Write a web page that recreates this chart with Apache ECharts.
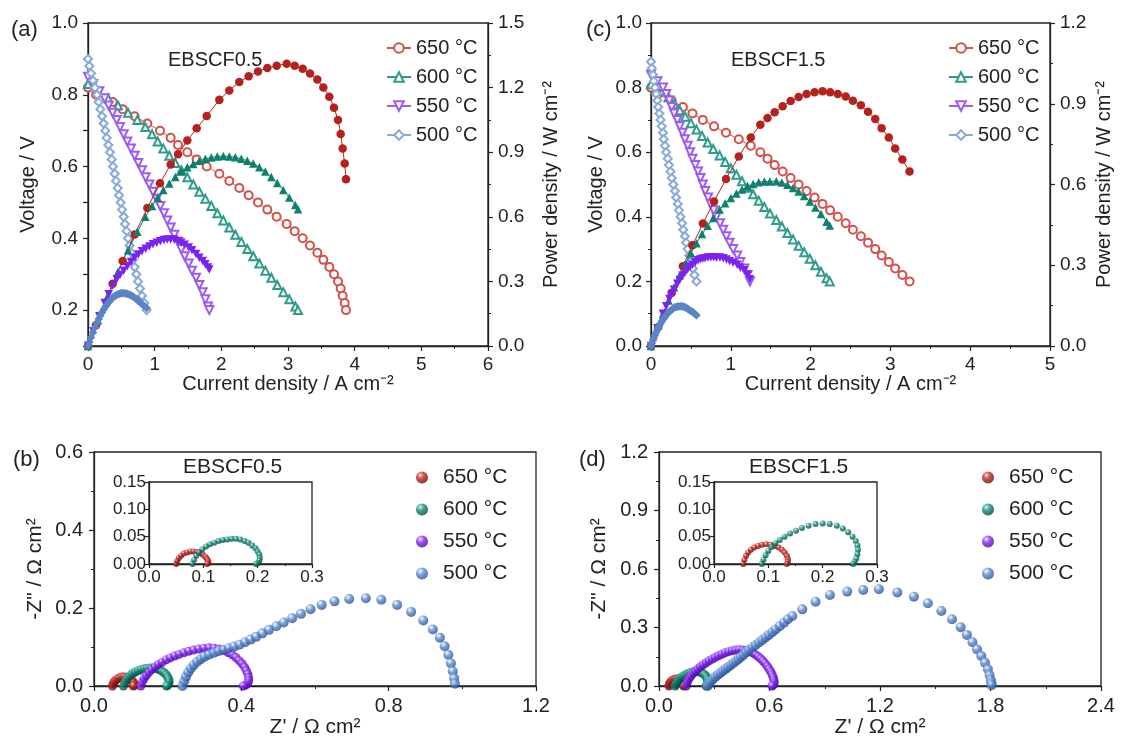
<!DOCTYPE html>
<html>
<head>
<meta charset="utf-8">
<title>EBSCF cell performance</title>
<script src="https://cdn.jsdelivr.net/npm/echarts@6/dist/echarts.min.js"></script>
<style>
  html, body { margin: 0; padding: 0; background: #fff; }
  #chart { width: 1121px; height: 744px; }
</style>
</head>
<body>
<div id="chart"></div>
<script>
// (a) EBSCF0.5 I-V-P curves
var aI650 = [0, 0.12, 0.37, 0.52, 0.70, 0.89, 1.08, 1.24, 1.35, 1.49, 1.63, 1.78, 1.97, 2.12, 2.27, 2.41, 2.55, 2.69, 2.83, 2.98, 3.10, 3.22, 3.33, 3.44, 3.53, 3.62, 3.69, 3.75, 3.79, 3.82, 3.85, 3.87];
var aV650 = [0.82, 0.80, 0.78, 0.76, 0.74, 0.72, 0.70, 0.68, 0.66, 0.64, 0.62, 0.60, 0.58, 0.56, 0.54, 0.52, 0.50, 0.48, 0.46, 0.44, 0.42, 0.40, 0.38, 0.36, 0.34, 0.32, 0.30, 0.28, 0.26, 0.24, 0.22, 0.20];
var aP650 = [0, 0.096, 0.289, 0.395, 0.518, 0.641, 0.756, 0.843, 0.891, 0.954, 1.011, 1.068, 1.143, 1.187, 1.226, 1.253, 1.275, 1.291, 1.302, 1.311, 1.302, 1.288, 1.265, 1.238, 1.200, 1.158, 1.107, 1.050, 0.985, 0.917, 0.847, 0.774];

var aI600 = [0, 0.15, 0.30, 0.45, 0.60, 0.74, 0.86, 0.96, 1.045, 1.13, 1.22, 1.31, 1.40, 1.49, 1.58, 1.67, 1.76, 1.85, 1.94, 2.03, 2.12, 2.21, 2.30, 2.39, 2.48, 2.57, 2.66, 2.75, 2.84, 2.93, 3.02, 3.11, 3.15];
var aV600 = [0.83, 0.81, 0.79, 0.77, 0.75, 0.73, 0.71, 0.69, 0.67, 0.65, 0.63, 0.61, 0.59, 0.57, 0.55, 0.53, 0.51, 0.49, 0.47, 0.45, 0.43, 0.41, 0.39, 0.37, 0.35, 0.33, 0.31, 0.29, 0.27, 0.25, 0.23, 0.21, 0.20];
var aP600 = [0, 0.12, 0.235, 0.345, 0.445, 0.53, 0.60, 0.65, 0.69, 0.725, 0.755, 0.785, 0.81, 0.83, 0.845, 0.86, 0.87, 0.875, 0.88, 0.882, 0.88, 0.877, 0.87, 0.86, 0.847, 0.83, 0.81, 0.785, 0.757, 0.725, 0.69, 0.655, 0.635];

var aI550 = [0, 0.08, 0.17, 0.25, 0.31, 0.37, 0.43, 0.48, 0.535, 0.59, 0.645, 0.70, 0.755, 0.81, 0.865, 0.92, 0.975, 1.03, 1.085, 1.14, 1.19, 1.24, 1.295, 1.35, 1.40, 1.45, 1.51, 1.56, 1.62, 1.67, 1.72, 1.76, 1.80, 1.82];
var aV550 = [0.85, 0.83, 0.81, 0.79, 0.77, 0.75, 0.73, 0.71, 0.69, 0.67, 0.65, 0.63, 0.61, 0.59, 0.57, 0.55, 0.53, 0.51, 0.49, 0.47, 0.45, 0.43, 0.41, 0.39, 0.37, 0.35, 0.33, 0.31, 0.29, 0.27, 0.25, 0.23, 0.21, 0.20];
var aP550 = [0, 0.068, 0.138, 0.20, 0.24, 0.28, 0.31, 0.33, 0.35, 0.37, 0.39, 0.41, 0.425, 0.44, 0.452, 0.462, 0.472, 0.48, 0.487, 0.492, 0.495, 0.495, 0.493, 0.488, 0.48, 0.47, 0.458, 0.445, 0.427, 0.41, 0.395, 0.38, 0.365, 0.355];

var aI500 = [0, 0.02, 0.045, 0.075, 0.105, 0.135, 0.16, 0.185, 0.21, 0.235, 0.26, 0.28, 0.305, 0.33, 0.355, 0.375, 0.40, 0.42, 0.445, 0.465, 0.49, 0.51, 0.535, 0.555, 0.58, 0.60, 0.625, 0.65, 0.675, 0.70, 0.725, 0.75, 0.78, 0.81, 0.845, 0.88];
var aV500 = [0.90, 0.88, 0.86, 0.84, 0.82, 0.80, 0.78, 0.76, 0.74, 0.72, 0.70, 0.68, 0.66, 0.64, 0.62, 0.60, 0.58, 0.56, 0.54, 0.52, 0.50, 0.48, 0.46, 0.44, 0.42, 0.40, 0.38, 0.36, 0.34, 0.32, 0.30, 0.28, 0.26, 0.24, 0.22, 0.20];
var aP500 = [0, 0.018, 0.039, 0.063, 0.086, 0.108, 0.125, 0.141, 0.155, 0.169, 0.182, 0.19, 0.201, 0.211, 0.22, 0.225, 0.232, 0.235, 0.24, 0.242, 0.245, 0.245, 0.246, 0.244, 0.244, 0.24, 0.238, 0.234, 0.23, 0.224, 0.218, 0.21, 0.203, 0.194, 0.186, 0.176];

// (c) EBSCF1.5 I-V-P curves
var cI650 = [0, 0.09, 0.26, 0.40, 0.52, 0.65, 0.79, 0.94, 1.10, 1.25, 1.37, 1.46, 1.55, 1.65, 1.75, 1.85, 1.95, 2.05, 2.15, 2.245, 2.34, 2.44, 2.53, 2.63, 2.72, 2.81, 2.89, 2.98, 3.06, 3.15, 3.24];
var cV650 = [0.80, 0.78, 0.76, 0.74, 0.72, 0.70, 0.68, 0.66, 0.64, 0.62, 0.60, 0.58, 0.56, 0.54, 0.52, 0.50, 0.48, 0.46, 0.44, 0.42, 0.40, 0.38, 0.36, 0.34, 0.32, 0.30, 0.28, 0.26, 0.24, 0.22, 0.20];
var cP650 = [0, 0.070, 0.198, 0.296, 0.374, 0.455, 0.537, 0.620, 0.704, 0.775, 0.822, 0.847, 0.868, 0.891, 0.910, 0.925, 0.936, 0.943, 0.946, 0.943, 0.936, 0.927, 0.911, 0.894, 0.870, 0.843, 0.809, 0.775, 0.734, 0.693, 0.648];

var cI600 = [0, 0.15, 0.22, 0.29, 0.36, 0.43, 0.50, 0.57, 0.64, 0.71, 0.78, 0.86, 0.93, 1.00, 1.07, 1.14, 1.21, 1.28, 1.35, 1.42, 1.49, 1.57, 1.64, 1.71, 1.78, 1.85, 1.92, 1.99, 2.06, 2.13, 2.20, 2.24];
var cV600 = [0.81, 0.79, 0.77, 0.75, 0.73, 0.71, 0.69, 0.67, 0.65, 0.63, 0.61, 0.59, 0.57, 0.55, 0.53, 0.51, 0.49, 0.47, 0.45, 0.43, 0.41, 0.39, 0.37, 0.35, 0.33, 0.31, 0.29, 0.27, 0.25, 0.23, 0.21, 0.20];
var cP600 = [0, 0.119, 0.169, 0.218, 0.263, 0.305, 0.345, 0.382, 0.416, 0.447, 0.476, 0.507, 0.530, 0.550, 0.567, 0.581, 0.593, 0.602, 0.608, 0.611, 0.611, 0.612, 0.607, 0.599, 0.587, 0.574, 0.557, 0.537, 0.515, 0.49, 0.462, 0.448];

var cI550 = [0, 0.08, 0.15, 0.19, 0.23, 0.26, 0.29, 0.33, 0.36, 0.395, 0.425, 0.46, 0.49, 0.52, 0.555, 0.59, 0.62, 0.65, 0.68, 0.715, 0.75, 0.785, 0.82, 0.865, 0.905, 0.945, 0.985, 1.03, 1.08, 1.12, 1.17, 1.21, 1.24];
var cV550 = [0.84, 0.82, 0.80, 0.78, 0.76, 0.74, 0.72, 0.70, 0.68, 0.66, 0.64, 0.62, 0.60, 0.58, 0.56, 0.54, 0.52, 0.50, 0.48, 0.46, 0.44, 0.42, 0.40, 0.38, 0.36, 0.34, 0.32, 0.30, 0.28, 0.26, 0.24, 0.22, 0.20];
var cP550 = [0, 0.066, 0.12, 0.148, 0.175, 0.192, 0.209, 0.231, 0.245, 0.261, 0.272, 0.285, 0.294, 0.302, 0.311, 0.319, 0.322, 0.325, 0.326, 0.329, 0.33, 0.33, 0.328, 0.329, 0.326, 0.321, 0.315, 0.309, 0.302, 0.291, 0.281, 0.266, 0.248];

var cI500 = [0, 0.01, 0.025, 0.035, 0.05, 0.065, 0.08, 0.09, 0.105, 0.12, 0.135, 0.15, 0.16, 0.175, 0.19, 0.21, 0.225, 0.245, 0.26, 0.28, 0.30, 0.315, 0.335, 0.35, 0.37, 0.39, 0.405, 0.425, 0.44, 0.46, 0.48, 0.50, 0.525, 0.545, 0.57];
var cV500 = [0.88, 0.86, 0.84, 0.82, 0.80, 0.78, 0.76, 0.74, 0.72, 0.70, 0.68, 0.66, 0.64, 0.62, 0.60, 0.58, 0.56, 0.54, 0.52, 0.50, 0.48, 0.46, 0.44, 0.42, 0.40, 0.38, 0.36, 0.34, 0.32, 0.30, 0.28, 0.26, 0.24, 0.22, 0.20];
var cP500 = [0, 0.009, 0.021, 0.029, 0.04, 0.051, 0.061, 0.067, 0.076, 0.084, 0.092, 0.099, 0.102, 0.109, 0.114, 0.122, 0.126, 0.132, 0.135, 0.14, 0.144, 0.145, 0.147, 0.147, 0.148, 0.148, 0.146, 0.145, 0.141, 0.138, 0.134, 0.13, 0.126, 0.12, 0.114];

// (b) EBSCF0.5 impedance spectra: Z' and -Z''
var bRe650 = [0.05, 0.052, 0.055, 0.059, 0.064, 0.07, 0.076, 0.082, 0.088, 0.094, 0.099, 0.104, 0.107, 0.109, 0.109, 0.107];
var bIm650 = [0, 0.006, 0.011, 0.015, 0.019, 0.021, 0.023, 0.023, 0.022, 0.02, 0.017, 0.013, 0.009, 0.005, 0.002, 0];
var bRe600 = [0.08, 0.083, 0.087, 0.092, 0.098, 0.105, 0.112, 0.12, 0.128, 0.136, 0.144, 0.152, 0.16, 0.168, 0.176, 0.183, 0.19, 0.196, 0.2, 0.203, 0.204, 0.203, 0.2, 0.197];
var bIm600 = [0, 0.008, 0.015, 0.021, 0.027, 0.032, 0.036, 0.039, 0.042, 0.044, 0.045, 0.046, 0.046, 0.045, 0.042, 0.039, 0.034, 0.029, 0.023, 0.017, 0.011, 0.006, 0.002, 0];
var bRe550 = [0.127, 0.131, 0.136, 0.142, 0.149, 0.157, 0.166, 0.175, 0.185, 0.196, 0.207, 0.219, 0.231, 0.244, 0.257, 0.27, 0.284, 0.298, 0.312, 0.326, 0.339, 0.352, 0.364, 0.375, 0.385, 0.394, 0.402, 0.409, 0.414, 0.418, 0.42, 0.42, 0.417, 0.411, 0.405];
var bIm550 = [0, 0.01, 0.019, 0.027, 0.035, 0.042, 0.049, 0.055, 0.061, 0.067, 0.072, 0.077, 0.081, 0.085, 0.089, 0.092, 0.095, 0.097, 0.098, 0.097, 0.095, 0.091, 0.086, 0.08, 0.073, 0.065, 0.057, 0.048, 0.039, 0.03, 0.021, 0.013, 0.006, 0.002, 0];
var bRe500 = [0.24, 0.245, 0.25, 0.256, 0.263, 0.271, 0.28, 0.29, 0.30, 0.312, 0.325, 0.338, 0.352, 0.366, 0.38, 0.395, 0.41, 0.425, 0.44, 0.457, 0.475, 0.495, 0.515, 0.538, 0.562, 0.588, 0.618, 0.653, 0.693, 0.738, 0.78, 0.823, 0.861, 0.894, 0.92, 0.939, 0.952, 0.962, 0.969, 0.974, 0.978, 0.98];
var bIm500 = [0, 0.012, 0.024, 0.035, 0.045, 0.054, 0.062, 0.069, 0.075, 0.08, 0.085, 0.089, 0.093, 0.097, 0.101, 0.106, 0.112, 0.119, 0.126, 0.135, 0.144, 0.153, 0.163, 0.174, 0.185, 0.197, 0.208, 0.217, 0.223, 0.225, 0.221, 0.208, 0.19, 0.168, 0.145, 0.124, 0.102, 0.08, 0.058, 0.038, 0.02, 0.006];

// (d) EBSCF1.5 impedance spectra
var dRe650 = [0.054, 0.056, 0.059, 0.063, 0.068, 0.074, 0.081, 0.088, 0.096, 0.104, 0.112, 0.119, 0.125, 0.13, 0.134, 0.136, 0.136, 0.134];
var dIm650 = [0, 0.008, 0.015, 0.021, 0.026, 0.03, 0.033, 0.035, 0.036, 0.035, 0.033, 0.03, 0.026, 0.021, 0.015, 0.009, 0.004, 0];
var dRe600 = [0.088, 0.091, 0.095, 0.1, 0.106, 0.113, 0.121, 0.13, 0.14, 0.151, 0.162, 0.174, 0.187, 0.2, 0.213, 0.226, 0.237, 0.247, 0.255, 0.261, 0.264, 0.265, 0.264, 0.262, 0.259, 0.256];
var dIm600 = [0, 0.008, 0.016, 0.024, 0.031, 0.038, 0.044, 0.05, 0.056, 0.061, 0.066, 0.07, 0.073, 0.074, 0.073, 0.07, 0.065, 0.058, 0.05, 0.042, 0.034, 0.026, 0.018, 0.01, 0.004, 0];
var dRe550 = [0.148, 0.152, 0.158, 0.166, 0.175, 0.186, 0.198, 0.211, 0.225, 0.24, 0.256, 0.272, 0.289, 0.306, 0.323, 0.341, 0.359, 0.378, 0.397, 0.416, 0.435, 0.454, 0.472, 0.49, 0.507, 0.523, 0.538, 0.552, 0.565, 0.577, 0.588, 0.598, 0.607, 0.614, 0.62, 0.624, 0.626, 0.624, 0.619, 0.613];
var dIm550 = [0, 0.015, 0.029, 0.042, 0.054, 0.066, 0.077, 0.088, 0.099, 0.109, 0.119, 0.129, 0.138, 0.147, 0.155, 0.163, 0.17, 0.176, 0.181, 0.184, 0.186, 0.185, 0.182, 0.177, 0.17, 0.161, 0.151, 0.14, 0.128, 0.115, 0.101, 0.087, 0.073, 0.059, 0.045, 0.032, 0.02, 0.01, 0.003, 0];
var dRe500 = [0.265, 0.272, 0.282, 0.294, 0.307, 0.32, 0.334, 0.348, 0.362, 0.376, 0.39, 0.404, 0.418, 0.432, 0.446, 0.46, 0.474, 0.489, 0.507, 0.525, 0.543, 0.561, 0.579, 0.597, 0.615, 0.633, 0.656, 0.679, 0.70, 0.724, 0.778, 0.85, 0.928, 1.022, 1.109, 1.194, 1.294, 1.384, 1.46, 1.533, 1.591, 1.638, 1.672, 1.702, 1.727, 1.75, 1.77, 1.786, 1.795, 1.802, 1.805, 1.806];
var dIm500 = [0, 0.013, 0.025, 0.037, 0.048, 0.058, 0.068, 0.078, 0.088, 0.098, 0.108, 0.118, 0.128, 0.139, 0.15, 0.161, 0.173, 0.186, 0.199, 0.21, 0.223, 0.236, 0.249, 0.262, 0.276, 0.29, 0.307, 0.325, 0.342, 0.359, 0.393, 0.432, 0.467, 0.484, 0.492, 0.496, 0.48, 0.458, 0.424, 0.385, 0.342, 0.301, 0.262, 0.224, 0.188, 0.154, 0.12, 0.086, 0.056, 0.031, 0.014, 0.004];

var temps = ['650', '600', '550', '500'];

var ink = '#222';
var font = 'Liberation Sans';
// filled (power / spheres) and open (voltage) colours per temperature
var solid = { '650': '#b5221e', '600': '#0f7f6f', '550': '#7b22f0', '500': '#5a84c4' };
var hollow = { '650': '#d4504b', '600': '#2f9b8b', '550': '#9a5bf6', '500': '#88a9d9' };
var sphere = {
  '650': ['#ef8a84', '#bd2621', '#6a0c09'],
  '600': ['#7fcfc1', '#118a79', '#05463c'],
  '550': ['#c9a2ff', '#8424f5', '#4a0a9e'],
  '500': ['#c4d8f5', '#5b8ad0', '#2b5193']
};
var openSym = { '650': 'emptyCircle', '600': 'emptyTriangle', '550': 'emptyTriangle', '500': 'emptyDiamond' };
var fillSym = { '650': 'circle', '600': 'triangle', '550': 'triangle', '500': 'diamond' };
var rot = { '650': 0, '600': 0, '550': 180, '500': 0 };

function zip(xs, ys) {
  return xs.map(function (x, i) { return [x, ys[i]]; });
}

function ball(t) {
  var c = sphere[t];
  return {
    type: 'radial', x: 0.36, y: 0.3, r: 0.7,
    colorStops: [
      { offset: 0, color: '#ffffff' },
      { offset: 0.14, color: c[0] },
      { offset: 0.45, color: c[1] },
      { offset: 1, color: c[2] }
    ]
  };
}

function axis(opt) {
  var dec = opt.dec;
  return {
    type: 'value',
    gridIndex: opt.grid,
    position: opt.pos,
    min: opt.min,
    max: opt.max,
    interval: opt.step,
    name: opt.name || '',
    nameLocation: 'middle',
    nameGap: opt.gap || 30,
    nameTextStyle: { color: ink, fontSize: opt.nfs || 20, fontFamily: font },
    axisLine: { show: true, onZero: false, lineStyle: { color: ink, width: 1.3 } },
    axisTick: { show: true, length: opt.tick || 5, lineStyle: { color: ink, width: 1.2 } },
    minorTick: { show: opt.minor !== false, splitNumber: 2, length: opt.mtick || 3, lineStyle: { color: ink, width: 1 } },
    splitLine: { show: false },
    axisLabel: {
      color: ink, fontSize: opt.fs || 19, fontFamily: font, margin: opt.margin || 9,
      formatter: opt.fmt || function (v) { return v.toFixed(dec); }
    }
  };
}

var grids = [
  { left: 88, top: 23, width: 400, height: 323 },
  { left: 651, top: 23, width: 399, height: 323 },
  { left: 94, top: 452, width: 442, height: 234 },
  { left: 659, top: 452, width: 442, height: 234 },
  { left: 149, top: 482, width: 163, height: 82, backgroundColor: '#fff' },
  { left: 714, top: 482, width: 163, height: 82, backgroundColor: '#fff' }
].map(function (g) {
  return Object.assign({ show: true, borderColor: ink, borderWidth: 1.3, backgroundColor: 'transparent', containLabel: false }, g);
});

var xAxes = [
  axis({ grid: 0, pos: 'bottom', min: 0, max: 6, step: 1, dec: 0, name: 'Current density / A cm\u207B\u00B2', gap: 27 }),
  axis({ grid: 1, pos: 'bottom', min: 0, max: 5, step: 1, dec: 0, name: 'Current density / A cm\u207B\u00B2', gap: 27 }),
  axis({ grid: 2, pos: 'bottom', min: 0, max: 1.2, step: 0.4, dec: 1, name: "Z' / \u03A9 cm\u00B2", gap: 31, fs: 20, nfs: 21, margin: 10 }),
  axis({ grid: 3, pos: 'bottom', min: 0, max: 2.4, step: 0.6, dec: 1, name: "Z' / \u03A9 cm\u00B2", gap: 31, fs: 20, nfs: 21, margin: 10 }),
  axis({ grid: 4, pos: 'bottom', min: 0, max: 0.3, step: 0.1, dec: 1, fs: 17, margin: 5, tick: 4, mtick: 2 }),
  axis({ grid: 5, pos: 'bottom', min: 0, max: 0.3, step: 0.1, dec: 1, fs: 17, margin: 5, tick: 4, mtick: 2 })
];

var yAxes = [
  axis({ grid: 0, pos: 'left', min: 0.1, max: 1.0, step: 0.1, minor: false, name: 'Voltage / V', gap: 50, margin: 10,
    fmt: function (v) { return Math.round(v * 10) % 2 === 0 ? v.toFixed(1) : ''; } }),
  axis({ grid: 0, pos: 'right', min: 0, max: 1.5, step: 0.3, dec: 1, name: 'Power density / W cm\u207B\u00B2', gap: 53, margin: 10 }),
  axis({ grid: 1, pos: 'left', min: 0, max: 1.0, step: 0.2, dec: 1, name: 'Voltage / V', gap: 45, margin: 9 }),
  axis({ grid: 1, pos: 'right', min: 0, max: 1.2, step: 0.3, dec: 1, name: 'Power density / W cm\u207B\u00B2', gap: 44, margin: 10 }),
  axis({ grid: 2, pos: 'left', min: 0, max: 0.6, step: 0.2, dec: 1, name: '-Z" / \u03A9 cm\u00B2', gap: 48, fs: 20, nfs: 21, margin: 11 }),
  axis({ grid: 3, pos: 'left', min: 0, max: 1.2, step: 0.3, dec: 1, name: '-Z" / \u03A9 cm\u00B2', gap: 49, fs: 20, nfs: 21, margin: 11 }),
  axis({ grid: 4, pos: 'left', min: 0, max: 0.15, step: 0.05, dec: 2, fs: 17, margin: 3, tick: 4, minor: false }),
  axis({ grid: 5, pos: 'left', min: 0, max: 0.15, step: 0.05, dec: 2, fs: 17, margin: 3, tick: 4, minor: false })
];

var ivData = {
  a: { I: [aI650, aI600, aI550, aI500], V: [aV650, aV600, aV550, aV500], P: [aP650, aP600, aP550, aP500], x: 0, yv: 0, yp: 1 },
  c: { I: [cI650, cI600, cI550, cI500], V: [cV650, cV600, cV550, cV500], P: [cP650, cP600, cP550, cP500], x: 1, yv: 2, yp: 3 }
};
var eisData = {
  b: { re: [bRe650, bRe600, bRe550, bRe500], im: [bIm650, bIm600, bIm550, bIm500], x: 2, y: 4, ix: 4, iy: 6 },
  d: { re: [dRe650, dRe600, dRe550, dRe500], im: [dIm650, dIm600, dIm550, dIm500], x: 3, y: 5, ix: 5, iy: 7 }
};

var series = [];
Object.keys(ivData).forEach(function (k) {
  var p = ivData[k];
  temps.forEach(function (t, i) {
    series.push({
      name: k + 'V' + t, type: 'line', xAxisIndex: p.x, yAxisIndex: p.yv,
      data: zip(p.I[i], p.V[i]),
      symbol: openSym[t], symbolSize: 8, symbolRotate: rot[t],
      itemStyle: { color: hollow[t], borderWidth: 1 },
      lineStyle: { color: hollow[t], width: 1 },
      z: 2, animation: false
    });
    series.push({
      name: k + 'P' + t, type: 'line', xAxisIndex: p.x, yAxisIndex: p.yp,
      data: zip(p.I[i], p.P[i]),
      symbol: fillSym[t], symbolSize: 8.5, symbolRotate: rot[t],
      itemStyle: { color: solid[t] },
      lineStyle: { color: solid[t], width: 1 },
      z: 3, animation: false
    });
  });
});
Object.keys(eisData).forEach(function (k) {
  var p = eisData[k];
  temps.forEach(function (t, i) {
    series.push({
      name: k + 'Z' + t, type: 'scatter', xAxisIndex: p.x, yAxisIndex: p.y,
      data: zip(p.re[i], p.im[i]),
      symbolSize: t === '500' ? 10 : 9,
      itemStyle: { color: ball(t) },
      z: 3, animation: false
    });
    if (t === '650' || t === '600') {
      series.push({
        name: k + 'z' + t, type: 'scatter', xAxisIndex: p.ix, yAxisIndex: p.iy,
        data: zip(p.re[i], p.im[i]),
        symbolSize: 6,
        itemStyle: { color: ball(t) },
        z: 5, animation: false
      });
    }
  });
});

function legend(prefix, left, top, opt) {
  return Object.assign({
    orient: 'vertical', left: left, top: top, padding: 0,
    data: temps.map(function (t) { return prefix + t; }),
    formatter: function (n) { return n.slice(-3) + ' \u00B0C'; },
    textStyle: { color: ink, fontSize: 20, fontFamily: font, lineHeight: 20 },
    itemWidth: 25, itemHeight: 12, itemGap: 9,
    selectedMode: false
  }, opt || {});
}

var ballLegend = { icon: 'circle', itemWidth: 32, itemHeight: 12, itemGap: 11,
  textStyle: { color: ink, fontSize: 21, fontFamily: font, lineHeight: 21 } };

var legends = [
  legend('aV', 386, 38, { itemWidth: 24 }),
  legend('cV', 948, 38, { itemWidth: 24 }),
  legend('bZ', 416, 467, ballLegend),
  legend('dZ', 982, 467, ballLegend)
];

function label(text, x, y, size) {
  return { type: 'text', left: x, top: y, z: 10,
    style: { text: text, fill: ink, fontSize: size, fontFamily: font } };
}

var chart = echarts.init(document.getElementById('chart'), null, { renderer: 'canvas' });
chart.setOption({
  backgroundColor: '#fff',
  animation: false,
  textStyle: { fontFamily: font },
  grid: grids,
  xAxis: xAxes,
  yAxis: yAxes,
  legend: legends,
  series: series,
  graphic: [
    label('(a)', 11, 19, 22),
    label('(c)', 586, 19, 22),
    label('(b)', 13, 449, 22),
    label('(d)', 579, 449, 22),
    label('EBSCF0.5', 168, 50, 20),
    label('EBSCF1.5', 731, 50, 20),
    label('EBSCF0.5', 183, 457, 21),
    label('EBSCF1.5', 749, 457, 21)
  ]
});
</script>
</body>
</html>
